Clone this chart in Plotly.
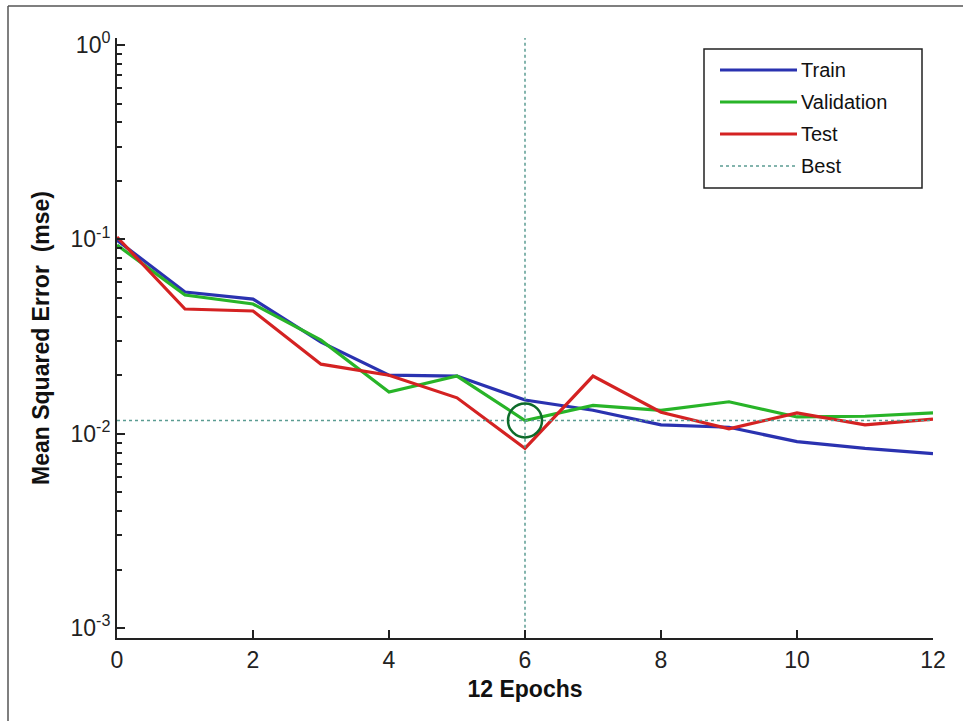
import numpy as np
import plotly.graph_objects as go

epochs = list(range(13))
train = [0.099, 0.0536, 0.0493, 0.0296, 0.0200, 0.0198, 0.0149, 0.0132, 0.0111, 0.0108, 0.0091, 0.0084, 0.0079]
validation = [0.0935, 0.0517, 0.0465, 0.0303, 0.0164, 0.0198, 0.0117, 0.0140, 0.0132, 0.0146, 0.0122, 0.0123, 0.0128]
test = [0.1028, 0.0438, 0.0428, 0.0228, 0.0200, 0.0153, 0.0084, 0.0198, 0.0129, 0.0106, 0.0128, 0.0111, 0.0119]
best_epoch = 6
best_value = validation[best_epoch]

x_ticks = [0, 2, 4, 6, 8, 10, 12]
y_ticks = [1e-3, 1e-2, 1e-1, 1e0]
y_ticktext = ["10<sup>-3</sup>", "10<sup>-2</sup>", "10<sup>-1</sup>", "10<sup>0</sup>"]
legend_names = ["Train", "Validation", "Test", "Best"]

C_TRAIN = "#2a32b0"
C_VAL = "#28b428"
C_TEST = "#d42222"
C_BEST = "#5b9c92"

fig = go.Figure()
fig.add_trace(go.Scatter(x=epochs, y=train, mode="lines", line=dict(color=C_TRAIN, width=3.2), name="Train", showlegend=False))
fig.add_trace(go.Scatter(x=epochs, y=validation, mode="lines", line=dict(color=C_VAL, width=3.2), name="Validation", showlegend=False))
fig.add_trace(go.Scatter(x=epochs, y=test, mode="lines", line=dict(color=C_TEST, width=3.2), name="Test", showlegend=False))
# Best lines
fig.add_trace(go.Scatter(x=[best_epoch, best_epoch], y=[10**-3.06, 10**0.04], mode="lines",
                         line=dict(color=C_BEST, width=1.5, dash="dot"), showlegend=False, name="Best"))
fig.add_trace(go.Scatter(x=[0, 12], y=[best_value, best_value], mode="lines",
                         line=dict(color=C_BEST, width=1.5, dash="dot"), showlegend=False, name="Best"))
fig.add_trace(go.Scatter(x=[best_epoch], y=[best_value], mode="markers",
                         marker=dict(symbol="circle-open", size=34, color="#0d6b2a", line=dict(width=2.5, color="#0d6b2a")),
                         showlegend=False))

minor_vals = [m * 10**d for d in range(-3, 0) for m in range(2, 10)]

tick_font = dict(family="Liberation Sans Narrow, Arial Narrow, Liberation Sans, Arial", size=23, color="#222")
fig.update_xaxes(range=[0, 12], tickvals=x_ticks, ticks="inside", ticklen=8, tickwidth=1.5, tickcolor="#222",
                 showline=True, linecolor="#222", linewidth=2, showgrid=False, zeroline=False,
                 tickfont=tick_font, automargin=False,
                 title=dict(text="<b>12 Epochs</b>", font=dict(family="Liberation Sans, Arial", size=23, color="#111"), standoff=9))
fig.update_yaxes(type="log", range=[-3.051, 0.036], tickvals=y_ticks, ticktext=y_ticktext,
                 ticks="inside", ticklen=8, tickwidth=1.5, tickcolor="#222",
                 showline=True, linecolor="#222", linewidth=2, showgrid=False, zeroline=False,
                 tickfont=tick_font, automargin=False,
                 minor=dict(tickvals=minor_vals, ticks="inside", ticklen=5, tickwidth=1.5, tickcolor="#222", showgrid=False),
                 title=dict(text="<b>Mean Squared Error  (mse)</b>", font=dict(family="Liberation Sans, Arial", size=23, color="#111"), standoff=14))

# Outer frame (left and top edges)
shapes = [
    dict(type="line", xref="paper", yref="paper", x0=(8-117)/816, x1=1.05, y0=(638-6)/600, y1=(638-6)/600,
         line=dict(color="#555", width=1.5)),
    dict(type="line", xref="paper", yref="paper", x0=(8-117)/816, x1=(8-117)/816, y0=(638-6)/600, y1=-0.2,
         line=dict(color="#555", width=1.5)),
]

# Manual legend box
def px_x(px):
    return (px - 117) / 816

def px_y(py):
    return (638 - py) / 600

shapes.append(dict(type="rect", xref="paper", yref="paper", x0=px_x(704), x1=px_x(922), y0=px_y(188), y1=px_y(49),
                   line=dict(color="#222", width=1.5), fillcolor="white", layer="above"))
legend_colors = [C_TRAIN, C_VAL, C_TEST, C_BEST]
legend_y = [70, 102, 134, 166]
annotations = []
for name, col, ly in zip(legend_names, legend_colors, legend_y):
    if name == "Best":
        shapes.append(dict(type="line", xref="paper", yref="paper", x0=px_x(720), x1=px_x(797), y0=px_y(ly), y1=px_y(ly),
                           line=dict(color=col, width=1.5, dash="dot"), layer="above"))
    else:
        shapes.append(dict(type="line", xref="paper", yref="paper", x0=px_x(720), x1=px_x(797), y0=px_y(ly), y1=px_y(ly),
                           line=dict(color=col, width=3.2), layer="above"))
    annotations.append(dict(text=name, xref="paper", yref="paper", x=px_x(799), y=px_y(ly), xanchor="left", yanchor="middle",
                            showarrow=False, font=dict(family="Liberation Sans, Arial", size=20, color="#111")))

fig.update_layout(width=963, height=721, margin=dict(l=117, r=30, t=38, b=83, autoexpand=False),
                  plot_bgcolor="white", paper_bgcolor="white", shapes=shapes, annotations=annotations,
                  showlegend=False)

fig.write_html("out.html", config={"displayModeBar": False},
               post_script="document.body.style.margin='0';document.body.style.overflow='hidden';")
